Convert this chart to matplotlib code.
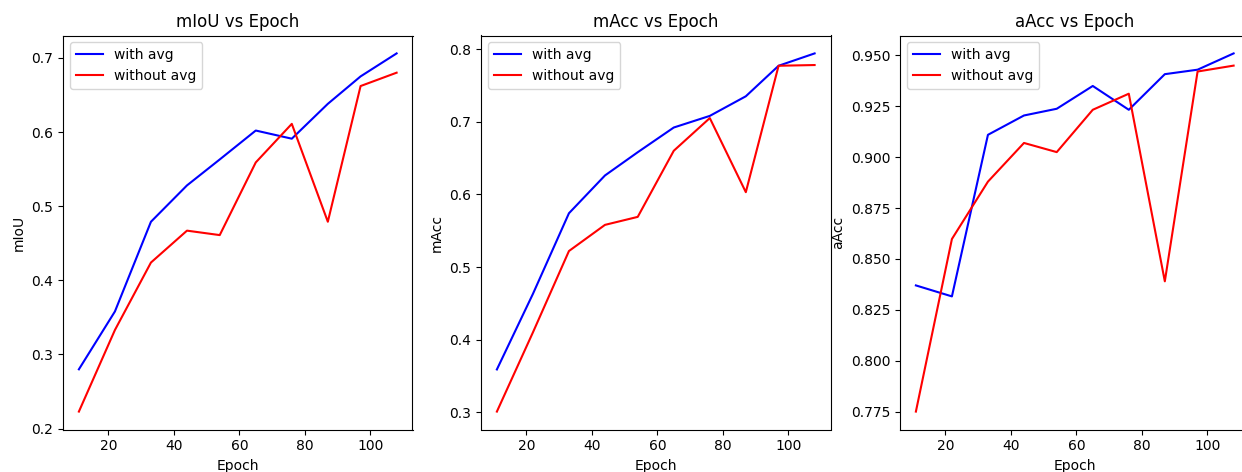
import matplotlib
matplotlib.use("Agg")
import matplotlib.pyplot as plt

# epochs at which the model was evaluated
epochs = [11, 22, 33, 44, 54, 65, 76, 87, 97, 108]

# mIoU
miou_avg = [0.280, 0.358, 0.479, 0.528, 0.563, 0.602, 0.591, 0.638, 0.675, 0.706]
miou_noavg = [0.223, 0.333, 0.424, 0.467, 0.461, 0.559, 0.611, 0.479, 0.662, 0.680]

# mAcc
macc_avg = [0.359, 0.463, 0.574, 0.626, 0.658, 0.692, 0.708, 0.735, 0.777, 0.794]
macc_noavg = [0.301, 0.410, 0.522, 0.558, 0.569, 0.660, 0.705, 0.603, 0.777, 0.778]

# aAcc
aacc_avg = [0.837, 0.8316, 0.911, 0.9205, 0.9238, 0.935, 0.9233, 0.9408, 0.943, 0.951]
aacc_noavg = [0.775, 0.8598, 0.888, 0.907, 0.9025, 0.9233, 0.9312, 0.839, 0.9421, 0.945]

metrics = ["mIoU", "mAcc", "aAcc"]
series = [(miou_avg, miou_noavg), (macc_avg, macc_noavg), (aacc_avg, aacc_noavg)]

W, H = 1242, 472
fig = plt.figure(figsize=(W / 100, H / 100), dpi=100)

lefts = [63, 481, 900]
for left, name, (avg, noavg) in zip(lefts, metrics, series):
    ax = fig.add_axes([left / W, (H - 429.5) / H, 349.5 / W, (429.5 - 35.5) / H])
    ax.plot(epochs, avg, color="b", label="with avg")
    ax.plot(epochs, noavg, color="r", label="without avg")
    ax.set_title(f"{name} vs Epoch")
    ax.set_xlabel("Epoch")
    ax.set_ylabel(name)
    ax.legend(loc="upper left")

fig.savefig("out.png", dpi=100)
